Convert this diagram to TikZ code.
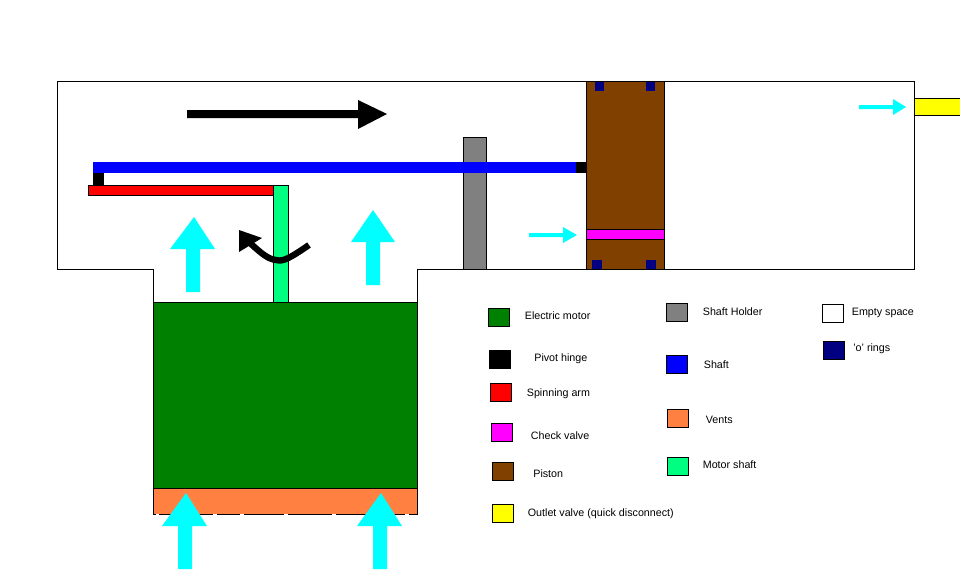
\documentclass[tikz,border=0pt]{standalone}
\usepackage{fontspec}
\setmainfont{Liberation Sans}
\usetikzlibrary{positioning}
\definecolor{MotorGreen}{HTML}{008000}
\definecolor{ArmRed}{HTML}{FF0000}
\definecolor{ValveMagenta}{HTML}{FF00FF}
\definecolor{PistonBrown}{HTML}{804000}
\definecolor{OutletYellow}{HTML}{FFFF00}
\definecolor{HolderGrey}{HTML}{808080}
\definecolor{ShaftBlue}{HTML}{0000FF}
\definecolor{VentOrange}{HTML}{FF8040}
\definecolor{MotorMint}{HTML}{00FF80}
\definecolor{RingNavy}{HTML}{000080}
\definecolor{AirCyan}{HTML}{00FFFF}
\tikzset{
  part/.style={draw=black,line width=0.5pt,xshift=0.01cm,yshift=-0.01cm},
  legendtext/.style={anchor=west,inner sep=0pt,yshift=-0.012cm,font=\fontsize{6.1}{7.5}\selectfont},
  airflow/.style={fill=AirCyan,draw=none},
  bigarrow/.style={fill=black,draw=none}
}
\begin{document}
\begin{tikzpicture}[x=0.02cm,y=-0.02cm]
    \useasboundingbox[fill=white] (0,0) rectangle (960,576);
    % housing
    \draw[part,fill=white] (57,81) -- (914,81) -- (914,269) -- (417,269) -- (417,302) -- (153,302) -- (153,269) -- (57,269) -- cycle;
    \draw[part,fill=OutletYellow] (960,98) -- (914,98) -- (914,115) -- (960,115);
    % motor and vents
    \draw[part,fill=MotorGreen] (153,302) rectangle (417,488);
    \draw[part,fill=VentOrange] (153,488) rectangle (417,514);
    \draw[white,line width=0.8pt] (156,514.5) -- (159,514.5);
    \draw[white,line width=0.8pt] (213,514.5) -- (217,514.5);
    \draw[white,line width=0.8pt] (240,514.5) -- (244,514.5);
    \draw[white,line width=0.8pt] (284,514.5) -- (288,514.5);
    \draw[white,line width=0.8pt] (332,514.5) -- (336,514.5);
    \draw[white,line width=0.8pt] (405,514.5) -- (409,514.5);
    \draw[part,fill=MotorMint] (273,185) rectangle (288,302);
    % shaft and spinning arm
    \draw[part,fill=HolderGrey] (463,137) rectangle (486,269);
    \draw[fill=black,draw=none] (93,173) rectangle (104,185);
    \draw[part,fill=ArmRed] (88,185) rectangle (273,195);
    \draw[fill=ShaftBlue,draw=none] (93,162) rectangle (576,173);
    \draw[fill=black,draw=none] (576,162) rectangle (586,173);
    % piston
    \draw[part,fill=PistonBrown] (586,81) rectangle (664,269);
    \draw[part,fill=ValveMagenta] (586,229) rectangle (664,239);
    \draw[fill=RingNavy,draw=none] (595,82) rectangle (604,91);
    \draw[fill=RingNavy,draw=none] (646,82) rectangle (655,91);
    \draw[fill=RingNavy,draw=none] (592,260) rectangle (602,269);
    \draw[fill=RingNavy,draw=none] (646,260) rectangle (656,269);
    % motion arrows
    \draw[bigarrow] (187,110) -- (358,110) -- (358,100) -- (387,114) -- (358,129) -- (358,118) -- (187,118) -- cycle;
    \draw[black,line width=3.6pt] (309,245) .. controls (290,258) and (283,262) .. (276,260) .. controls (268,259) and (262,254) .. (250,243);
    \draw[bigarrow] (239,230) -- (262,238) -- (239,252) -- cycle;
    % air flow
    \draw[airflow] (186,292) -- (186,249) -- (170,249) -- (194,217) -- (215,249) -- (200,249) -- (200,292) -- cycle;
    \draw[airflow] (366,285) -- (366,242) -- (351,242) -- (373,210) -- (395,242) -- (380,242) -- (380,285) -- cycle;
    \draw[airflow] (178,569) -- (178,526) -- (162,526) -- (186,493) -- (207,526) -- (192,526) -- (192,569) -- cycle;
    \draw[airflow] (373,569) -- (373,526) -- (357,526) -- (381,493) -- (402,526) -- (387,526) -- (387,569) -- cycle;
    \draw[airflow] (529,233) -- (563,233) -- (563,227) -- (577,235) -- (563,243) -- (563,237) -- (529,237) -- cycle;
    \draw[airflow] (859,105) -- (893,105) -- (893,99) -- (906,107) -- (893,115) -- (893,109) -- (859,109) -- cycle;
    % legend
    \draw[part,fill=MotorGreen] (488,308) rectangle (509,326);
    \node[legendtext] (motorlabel) at (524.5,315) {Electric motor};
    \draw[part,fill=black] (489,350) rectangle (510,368);
    \node[legendtext] (hingelabel) at (534,358) {Pivot hinge};
    \draw[part,fill=ArmRed] (490,383) rectangle (511,401);
    \node[legendtext] (armlabel) at (526.5,393) {Spinning arm};
    \draw[part,fill=ValveMagenta] (491,423) rectangle (512,441);
    \node[legendtext] (valvelabel) at (530.5,435) {Check valve};
    \draw[part,fill=PistonBrown] (492,462) rectangle (513,480);
    \node[legendtext] (pistonlabel) at (533,473) {Piston};
    \draw[part,fill=OutletYellow] (492,504) rectangle (513,522);
    \node[legendtext] (outletlabel) at (527.5,513) {Outlet valve (quick disconnect)};
    \draw[part,fill=HolderGrey] (666,303) rectangle (687,321);
    \node[legendtext] (holderlabel) at (702.5,311) {Shaft Holder};
    \draw[part,fill=ShaftBlue] (666,355) rectangle (687,373);
    \node[legendtext] (shaftlabel) at (703.5,364) {Shaft};
    \draw[part,fill=VentOrange] (667,409) rectangle (688,427);
    \node[legendtext] (ventslabel) at (705.5,419) {Vents};
    \draw[part,fill=MotorMint] (667,457) rectangle (688,475);
    \node[legendtext] (mshaftlabel) at (702.5,464) {Motor shaft};
    \draw[part,fill=white] (822,304) rectangle (843,322);
    \node[legendtext] (emptylabel) at (851.5,312) {Empty space};
    \draw[part,fill=RingNavy] (823,341) rectangle (844,359);
    \node[legendtext] (ringslabel) at (853,348) {'o' rings};
  \end{tikzpicture}
\end{document}
